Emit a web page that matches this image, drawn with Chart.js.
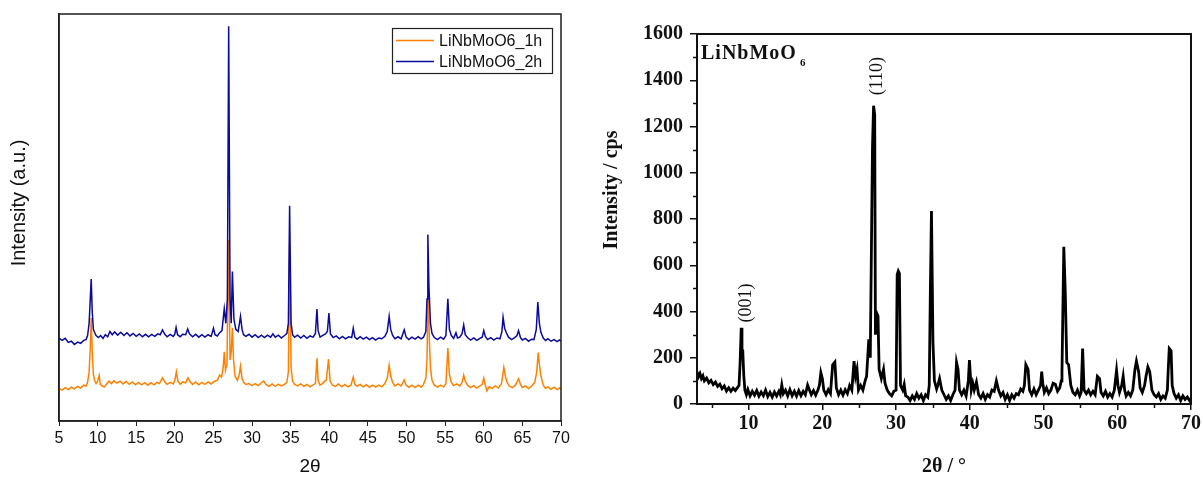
<!DOCTYPE html>
<html><head><meta charset="utf-8">
<script src="https://cdn.jsdelivr.net/npm/chart.js@4.4.1/dist/chart.umd.min.js"></script>
<style>
html,body{margin:0;padding:0;background:#fff;width:1203px;height:481px;overflow:hidden}
#c1{position:absolute;left:0;top:0}
#c2{position:absolute;left:590px;top:0}
</style></head><body>
<canvas id="c1" width="590" height="481"></canvas>
<canvas id="c2" width="613" height="481"></canvas>
<script>
// ---------- Left panel data: [2θ, intensity (a.u.)] ----------
const seriesLabels = ['LiNbMoO6_1h', 'LiNbMoO6_2h'];
const pattern1h = [[5,80],[5.4,76],[5.8,82],[6.2,77],[6.6,83],[7,79],[7.4,85],[7.8,81],[8.2,88],[8.5,86],[8.7,95],[8.9,120],[9.05,180],[9.17,253],[9.3,170],[9.45,115],[9.6,100],[9.8,92],[10,98],[10.2,112],[10.35,90],[10.6,86],[10.9,84],[11.2,92],[11.5,98],[11.8,92],[12.1,99],[12.5,93],[12.9,98],[13.3,91],[13.7,97],[14.1,90],[14.5,96],[14.9,89],[15.3,95],[15.7,89],[16.1,94],[16.5,88],[16.9,94],[17.3,89],[17.7,95],[18,92],[18.4,106],[18.7,96],[19,90],[19.4,95],[19.8,91],[20,100],[20.2,121],[20.4,98],[20.7,90],[21,96],[21.4,94],[21.7,106],[22,96],[22.3,90],[22.7,96],[23.1,89],[23.5,95],[23.9,90],[24.3,96],[24.7,91],[25.1,97],[25.5,100],[25.8,113],[26.05,108],[26.25,130],[26.4,170],[26.55,125],[26.75,140],[26.95,445],[27.15,150],[27.3,170],[27.45,229],[27.6,150],[27.8,110],[28.1,100],[28.35,115],[28.5,135],[28.7,105],[28.9,95],[29.2,90],[29.6,92],[30,87],[30.4,92],[30.8,87],[31.2,94],[31.5,98],[31.8,90],[32.2,85],[32.6,91],[33,85],[33.4,90],[33.8,86],[34.2,90],[34.5,95],[34.7,120],[34.86,438],[35.05,130],[35.25,98],[35.5,90],[35.9,86],[36.3,91],[36.7,85],[37.1,90],[37.5,84],[37.9,89],[38.2,92],[38.4,154],[38.55,100],[38.8,88],[39.1,92],[39.4,98],[39.6,100],[39.9,152],[40.1,98],[40.4,88],[40.8,85],[41.2,91],[41.6,84],[42,90],[42.4,84],[42.8,88],[43.1,108],[43.3,90],[43.6,85],[44,90],[44.4,84],[44.8,89],[45.2,83],[45.6,88],[46,83],[46.4,88],[46.8,84],[47.2,92],[47.5,105],[47.75,137],[47.95,110],[48.2,95],[48.5,86],[48.9,91],[49.3,86],[49.7,101],[49.95,88],[50.3,83],[50.7,88],[51.1,82],[51.5,88],[51.9,83],[52.2,90],[52.5,105],[52.65,150],[52.8,352],[52.95,200],[53.1,130],[53.3,100],[53.6,88],[54,83],[54.4,88],[54.8,84],[55.1,92],[55.35,179],[55.55,115],[55.8,95],[56.1,87],[56.5,91],[56.9,86],[57.2,95],[57.4,113],[57.6,98],[57.9,88],[58.3,82],[58.7,87],[59.1,81],[59.5,86],[59.8,90],[60,105],[60.2,88],[60.4,74],[60.7,84],[61.1,80],[61.5,86],[61.9,81],[62.3,92],[62.6,132],[62.8,110],[63,96],[63.3,86],[63.7,82],[64.1,88],[64.5,104],[64.75,90],[65,82],[65.4,86],[65.8,80],[66.2,86],[66.6,95],[66.85,120],[67.05,168],[67.2,140],[67.4,110],[67.7,88],[68,80],[68.3,84],[68.7,78],[69.1,83],[69.5,77],[69.8,81],[70,78]];
const pattern2h = [[5,204],[5.4,198],[5.8,203],[6.2,193],[6.6,196],[7,188],[7.4,194],[7.8,191],[8.2,198],[8.5,200],[8.7,210],[8.9,240],[9.05,300],[9.17,349],[9.3,270],[9.45,225],[9.6,218],[9.8,210],[10.1,205],[10.4,210],[10.7,203],[11,212],[11.3,207],[11.6,220],[11.9,212],[12.2,219],[12.6,211],[13,218],[13.4,210],[13.8,217],[14.2,209],[14.6,215],[15,208],[15.4,214],[15.8,207],[16.2,213],[16.6,207],[17,213],[17.4,208],[17.8,214],[18.1,212],[18.4,224],[18.7,213],[19,207],[19.4,213],[19.8,208],[20,214],[20.16,230],[20.35,212],[20.7,207],[21,213],[21.4,212],[21.66,226],[21.9,214],[22.3,207],[22.7,213],[23.1,206],[23.5,212],[23.9,206],[24.3,212],[24.7,208],[25,228],[25.2,212],[25.5,209],[25.8,217],[26.1,222],[26.4,276],[26.6,240],[26.8,300],[26.97,970],[27.15,300],[27.3,240],[27.45,367],[27.65,250],[27.9,225],[28.2,220],[28.5,257],[28.7,225],[28.9,212],[29.2,208],[29.6,213],[30,206],[30.4,212],[30.8,205],[31.2,211],[31.6,205],[32,211],[32.4,206],[32.7,214],[33,206],[33.4,211],[33.8,204],[34.2,210],[34.5,215],[34.7,240],[34.86,529],[35.05,240],[35.25,212],[35.5,206],[35.9,211],[36.3,204],[36.7,210],[37.1,203],[37.5,209],[37.9,206],[38.2,215],[38.4,275],[38.55,222],[38.8,206],[39.1,210],[39.5,214],[39.75,220],[39.95,265],[40.15,214],[40.5,205],[40.9,209],[41.3,202],[41.7,208],[42.1,202],[42.5,207],[42.9,205],[43.1,228],[43.3,206],[43.6,201],[44,207],[44.4,201],[44.8,206],[45.2,200],[45.6,205],[46,199],[46.4,204],[46.8,202],[47.2,208],[47.5,220],[47.75,257],[47.95,225],[48.2,210],[48.5,202],[48.9,207],[49.3,202],[49.7,224],[49.95,206],[50.3,200],[50.7,206],[51.1,201],[51.5,207],[51.9,202],[52.2,206],[52.5,220],[52.65,300],[52.76,458],[52.9,330],[53.1,240],[53.3,215],[53.6,205],[54,200],[54.4,206],[54.8,201],[55.1,210],[55.35,300],[55.55,225],[55.8,210],[56.1,203],[56.4,217],[56.6,204],[56.9,206],[57.2,215],[57.4,236],[57.6,212],[57.9,205],[58.3,199],[58.7,204],[59.1,198],[59.5,203],[59.8,206],[60,222],[60.2,208],[60.5,200],[60.9,205],[61.3,199],[61.7,204],[62.1,202],[62.35,220],[62.5,255],[62.7,228],[62.9,218],[63.2,206],[63.6,200],[64,205],[64.3,210],[64.5,222],[64.75,205],[65,199],[65.4,203],[65.8,196],[66.2,201],[66.5,200],[66.8,225],[67,292],[67.2,240],[67.4,218],[67.7,204],[68,198],[68.3,202],[68.7,196],[69.1,200],[69.5,195],[69.8,199],[70,196]];
const leftXTicks = [5,10,15,20,25,30,35,40,45,50,55,60,65,70];

// ---------- Right panel data: [2θ, counts] ----------
const patternRef = [[3,140],[3.2,118],[3.4,132],[3.6,110],[3.8,122],[4,100],[4.3,112],[4.6,92],[4.9,102],[5.2,84],[5.5,95],[5.8,76],[6.1,86],[6.4,66],[6.7,78],[7,56],[7.3,70],[7.6,55],[7.9,68],[8.2,58],[8.5,72],[8.7,80],[8.85,180],[9,330],[9.1,200],[9.2,235],[9.35,120],[9.5,60],[9.7,40],[9.9,62],[10.2,35],[10.5,55],[10.8,38],[11.1,58],[11.4,34],[11.7,52],[12,36],[12.3,60],[12.6,32],[12.9,50],[13.2,30],[13.5,52],[13.8,35],[14.1,55],[14.3,40],[14.5,82],[14.7,45],[15,60],[15.3,35],[15.6,62],[15.9,36],[16.2,55],[16.5,34],[16.8,58],[17.1,36],[17.4,55],[17.7,40],[18,82],[18.2,65],[18.5,40],[18.8,58],[19.1,38],[19.4,60],[19.6,80],[19.8,135],[20,110],[20.2,60],[20.5,40],[20.8,62],[21.1,45],[21.4,170],[21.7,182],[21.9,70],[22.2,40],[22.5,60],[22.8,38],[23.1,62],[23.4,45],[23.7,80],[24,60],[24.3,185],[24.5,120],[24.7,150],[24.9,60],[25.2,80],[25.5,60],[25.8,100],[26,120],[26.3,280],[26.5,200],[26.8,1110],[26.95,1290],[27.1,1250],[27.2,300],[27.35,395],[27.55,380],[27.7,150],[28,110],[28.3,150],[28.5,90],[28.8,60],[29.1,45],[29.4,35],[29.7,55],[30,60],[30.15,560],[30.3,575],[30.45,565],[30.6,80],[30.9,60],[31.1,85],[31.3,35],[31.6,30],[31.9,15],[32.2,35],[32.5,20],[32.8,45],[33.1,25],[33.4,40],[33.7,15],[34,40],[34.3,30],[34.5,80],[34.65,490],[34.8,835],[35,270],[35.2,100],[35.5,65],[35.7,85],[35.9,110],[36.2,60],[36.5,40],[36.8,20],[37.1,35],[37.4,15],[37.7,40],[38,60],[38.2,180],[38.4,150],[38.6,60],[38.9,40],[39.2,60],[39.5,35],[39.8,100],[39.95,190],[40.2,60],[40.4,90],[40.6,60],[40.9,95],[41.2,40],[41.5,25],[41.8,45],[42.1,20],[42.4,40],[42.7,30],[43,60],[43.3,55],[43.6,100],[43.9,60],[44.2,35],[44.5,50],[44.8,20],[45.1,40],[45.4,15],[45.7,40],[46,25],[46.3,45],[46.6,40],[46.9,65],[47.2,55],[47.4,80],[47.6,170],[47.9,150],[48.1,60],[48.4,40],[48.7,65],[49,40],[49.3,60],[49.6,80],[49.75,140],[49.9,90],[50.1,50],[50.4,70],[50.7,45],[51,60],[51.3,90],[51.6,85],[51.9,55],[52.2,70],[52.4,100],[52.5,140],[52.75,680],[52.95,480],[53.15,180],[53.4,170],[53.7,80],[54,50],[54.3,40],[54.6,60],[54.9,35],[55.1,50],[55.3,240],[55.5,60],[55.8,45],[56.1,60],[56.4,40],[56.7,55],[57,40],[57.3,120],[57.6,110],[57.8,50],[58.1,35],[58.4,55],[58.7,30],[59,45],[59.3,30],[59.6,60],[59.9,145],[60.1,80],[60.3,50],[60.6,80],[60.8,120],[61,60],[61.2,35],[61.5,50],[61.8,35],[62.1,60],[62.4,150],[62.6,185],[62.9,140],[63.1,70],[63.4,50],[63.7,80],[63.9,120],[64.15,160],[64.4,140],[64.7,60],[65,40],[65.3,30],[65.6,45],[65.9,20],[66.2,35],[66.5,25],[66.8,60],[66.9,140],[67.05,240],[67.3,230],[67.45,80],[67.7,45],[68,25],[68.3,40],[68.6,15],[68.9,35],[69.2,20],[69.5,30],[69.8,15],[70,25]];
const rightXTicks = [10,20,30,40,50,60,70];
const rightYTicks = [0,200,400,600,800,1000,1200,1400,1600];
const peakLabels = ['(001)', '(110)'];
const peakLabelX = [9.73, 27.5];
const peakLabelY = [437, 1418];

// ---------- helpers ----------
const pts = arr => arr.map(p => ({x: p[0], y: p[1]}));
const SANS = '"Liberation Sans", Arial, sans-serif';
const SERIF = '"Liberation Serif", "Times New Roman", serif';

// ---------- Left chart ----------
const leftDecor = {
  id: 'leftDecor',
  afterDraw(chart) {
    const {ctx, chartArea: a} = chart;
    ctx.save();
    ctx.strokeStyle = '#1e1e1e'; ctx.lineWidth = 1.5;
    ctx.strokeRect(a.left, a.top, a.right - a.left, a.bottom - a.top);
    ctx.lineWidth = 1.2; ctx.strokeStyle = '#222';
    ctx.strokeRect(392.5, 28.5, 160, 45);
    chart.data.datasets.forEach((d, i) => {
      const y = 40.5 + i * 21;
      ctx.strokeStyle = d.borderColor; ctx.lineWidth = 1.5;
      ctx.beginPath(); ctx.moveTo(396, y); ctx.lineTo(434, y); ctx.stroke();
      ctx.fillStyle = '#111'; ctx.font = '16px ' + SANS;
      ctx.textAlign = 'left'; ctx.textBaseline = 'middle';
      ctx.fillText(d.label, 439, y + 1);
    });
    ctx.translate(19, 203); ctx.rotate(-Math.PI / 2);
    ctx.font = '20px ' + SANS; ctx.fillStyle = '#111';
    ctx.textAlign = 'center'; ctx.textBaseline = 'middle';
    ctx.fillText('Intensity (a.u.)', 0, 0);
    ctx.restore();
  }
};

new Chart(document.getElementById('c1'), {
  type: 'line',
  data: {
    datasets: [
      {label: seriesLabels[0], data: pts(pattern1h), borderColor: '#ff8000', borderWidth: 1.5, pointRadius: 0, tension: 0, order: 2},
      {label: seriesLabels[1], data: pts(pattern2h), borderColor: '#0a0a9c', borderWidth: 1.5, pointRadius: 0, tension: 0, order: 1}
    ]
  },
  options: {
    responsive: false, animation: false, devicePixelRatio: 1,
    layout: {padding: {top: 14, right: 29, left: 0, bottom: 0}},
    plugins: {legend: {display: false}, tooltip: {enabled: false}},
    scales: {
      x: {
        type: 'linear', min: 5, max: 70,
        afterBuildTicks: s => { s.ticks = leftXTicks.map(v => ({value: v})); },
        ticks: {color: '#111', font: {family: SANS, size: 16}, padding: 3, maxRotation: 0, autoSkip: false, callback: v => String(v)},
        grid: {drawOnChartArea: false, tickLength: 5, color: '#222', lineWidth: 1},
        border: {display: true, color: '#1e1e1e', width: 1.5},
        title: {display: true, text: '2θ', color: '#111', font: {family: SANS, size: 19}, padding: {top: 0, bottom: 3}},
        afterFit: s => { s.height = 60; }
      },
      y: {
        min: 0, max: 1000,
        ticks: {display: false},
        grid: {display: false},
        border: {display: true, color: '#1e1e1e', width: 1.5},
        afterFit: s => { s.width = 59; }
      }
    }
  },
  plugins: [leftDecor]
});

// ---------- Right chart ----------
const rightDecor = {
  id: 'rightDecor',
  afterDraw(chart) {
    const {ctx, chartArea: a, scales} = chart;
    ctx.save();
    ctx.strokeStyle = '#111'; ctx.lineWidth = 2;
    ctx.strokeRect(a.left, a.top, a.right - a.left, a.bottom - a.top);
    ctx.lineWidth = 1.5;
    ctx.beginPath();
    for (let v = 100; v < 1600; v += 200) {
      const y = Math.round(scales.y.getPixelForValue(v)) + 0.5;
      ctx.moveTo(a.left, y); ctx.lineTo(a.left - 4, y);
    }
    for (let v = 5; v < 70; v += 10) {
      const x = Math.round(scales.x.getPixelForValue(v)) + 0.5;
      ctx.moveTo(x, a.bottom); ctx.lineTo(x, a.bottom + 4);
    }
    ctx.stroke();
    ctx.fillStyle = '#111';
    ctx.font = 'bold 20px ' + SERIF;
    ctx.textAlign = 'left'; ctx.textBaseline = 'alphabetic';
    if ('letterSpacing' in ctx) ctx.letterSpacing = '1px';
    ctx.fillText('LiNbMoO', a.left + 4, 59);
    if ('letterSpacing' in ctx) ctx.letterSpacing = '0px';
    ctx.font = 'bold 11px ' + SERIF;
    ctx.fillText('6', a.left + 103, 66);
    ctx.font = '18px ' + SERIF;
    ctx.textAlign = 'center'; ctx.textBaseline = 'middle';
    peakLabels.forEach((t, i) => {
      ctx.save();
      ctx.translate(scales.x.getPixelForValue(peakLabelX[i]), scales.y.getPixelForValue(peakLabelY[i]));
      ctx.rotate(-Math.PI / 2);
      ctx.fillText(t, 0, 0);
      ctx.restore();
    });
    ctx.save();
    ctx.translate(22, 190); ctx.rotate(-Math.PI / 2);
    ctx.font = 'bold 20px ' + SERIF;
    ctx.fillText('Intensity / cps', 0, 0);
    ctx.restore();
    ctx.restore();
  }
};

new Chart(document.getElementById('c2'), {
  type: 'line',
  data: {
    datasets: [
      {label: 'LiNbMoO6', data: pts(patternRef), borderColor: '#000', borderWidth: 2.8, pointRadius: 0, tension: 0}
    ]
  },
  options: {
    responsive: false, animation: false, devicePixelRatio: 1,
    layout: {padding: {top: 34, right: 11, left: 0, bottom: 0}},
    plugins: {legend: {display: false}, tooltip: {enabled: false}},
    scales: {
      x: {
        type: 'linear', min: 3, max: 70,
        afterBuildTicks: s => { s.ticks = rightXTicks.map(v => ({value: v})); },
        ticks: {color: '#111', font: {family: SERIF, size: 20, weight: 'bold'}, padding: 2, maxRotation: 0, autoSkip: false, callback: v => String(v)},
        grid: {drawOnChartArea: false, tickLength: 6, color: '#111', lineWidth: 1.5},
        border: {display: true, color: '#111', width: 2},
        title: {display: true, text: '2θ / °', color: '#111', font: {family: SERIF, size: 20, weight: 'bold'}, padding: {top: 0, bottom: 2}},
        afterFit: s => { s.height = 77; }
      },
      y: {
        min: 0, max: 1600,
        afterBuildTicks: s => { s.ticks = rightYTicks.map(v => ({value: v})); },
        ticks: {color: '#111', font: {family: SERIF, size: 20, weight: 'bold'}, padding: 7, autoSkip: false, callback: v => String(v)},
        grid: {drawOnChartArea: false, tickLength: 7, color: '#111', lineWidth: 1.5},
        border: {display: true, color: '#111', width: 2},
        afterFit: s => { s.width = 107; }
      }
    }
  },
  plugins: [rightDecor]
});
</script>
</body></html>
